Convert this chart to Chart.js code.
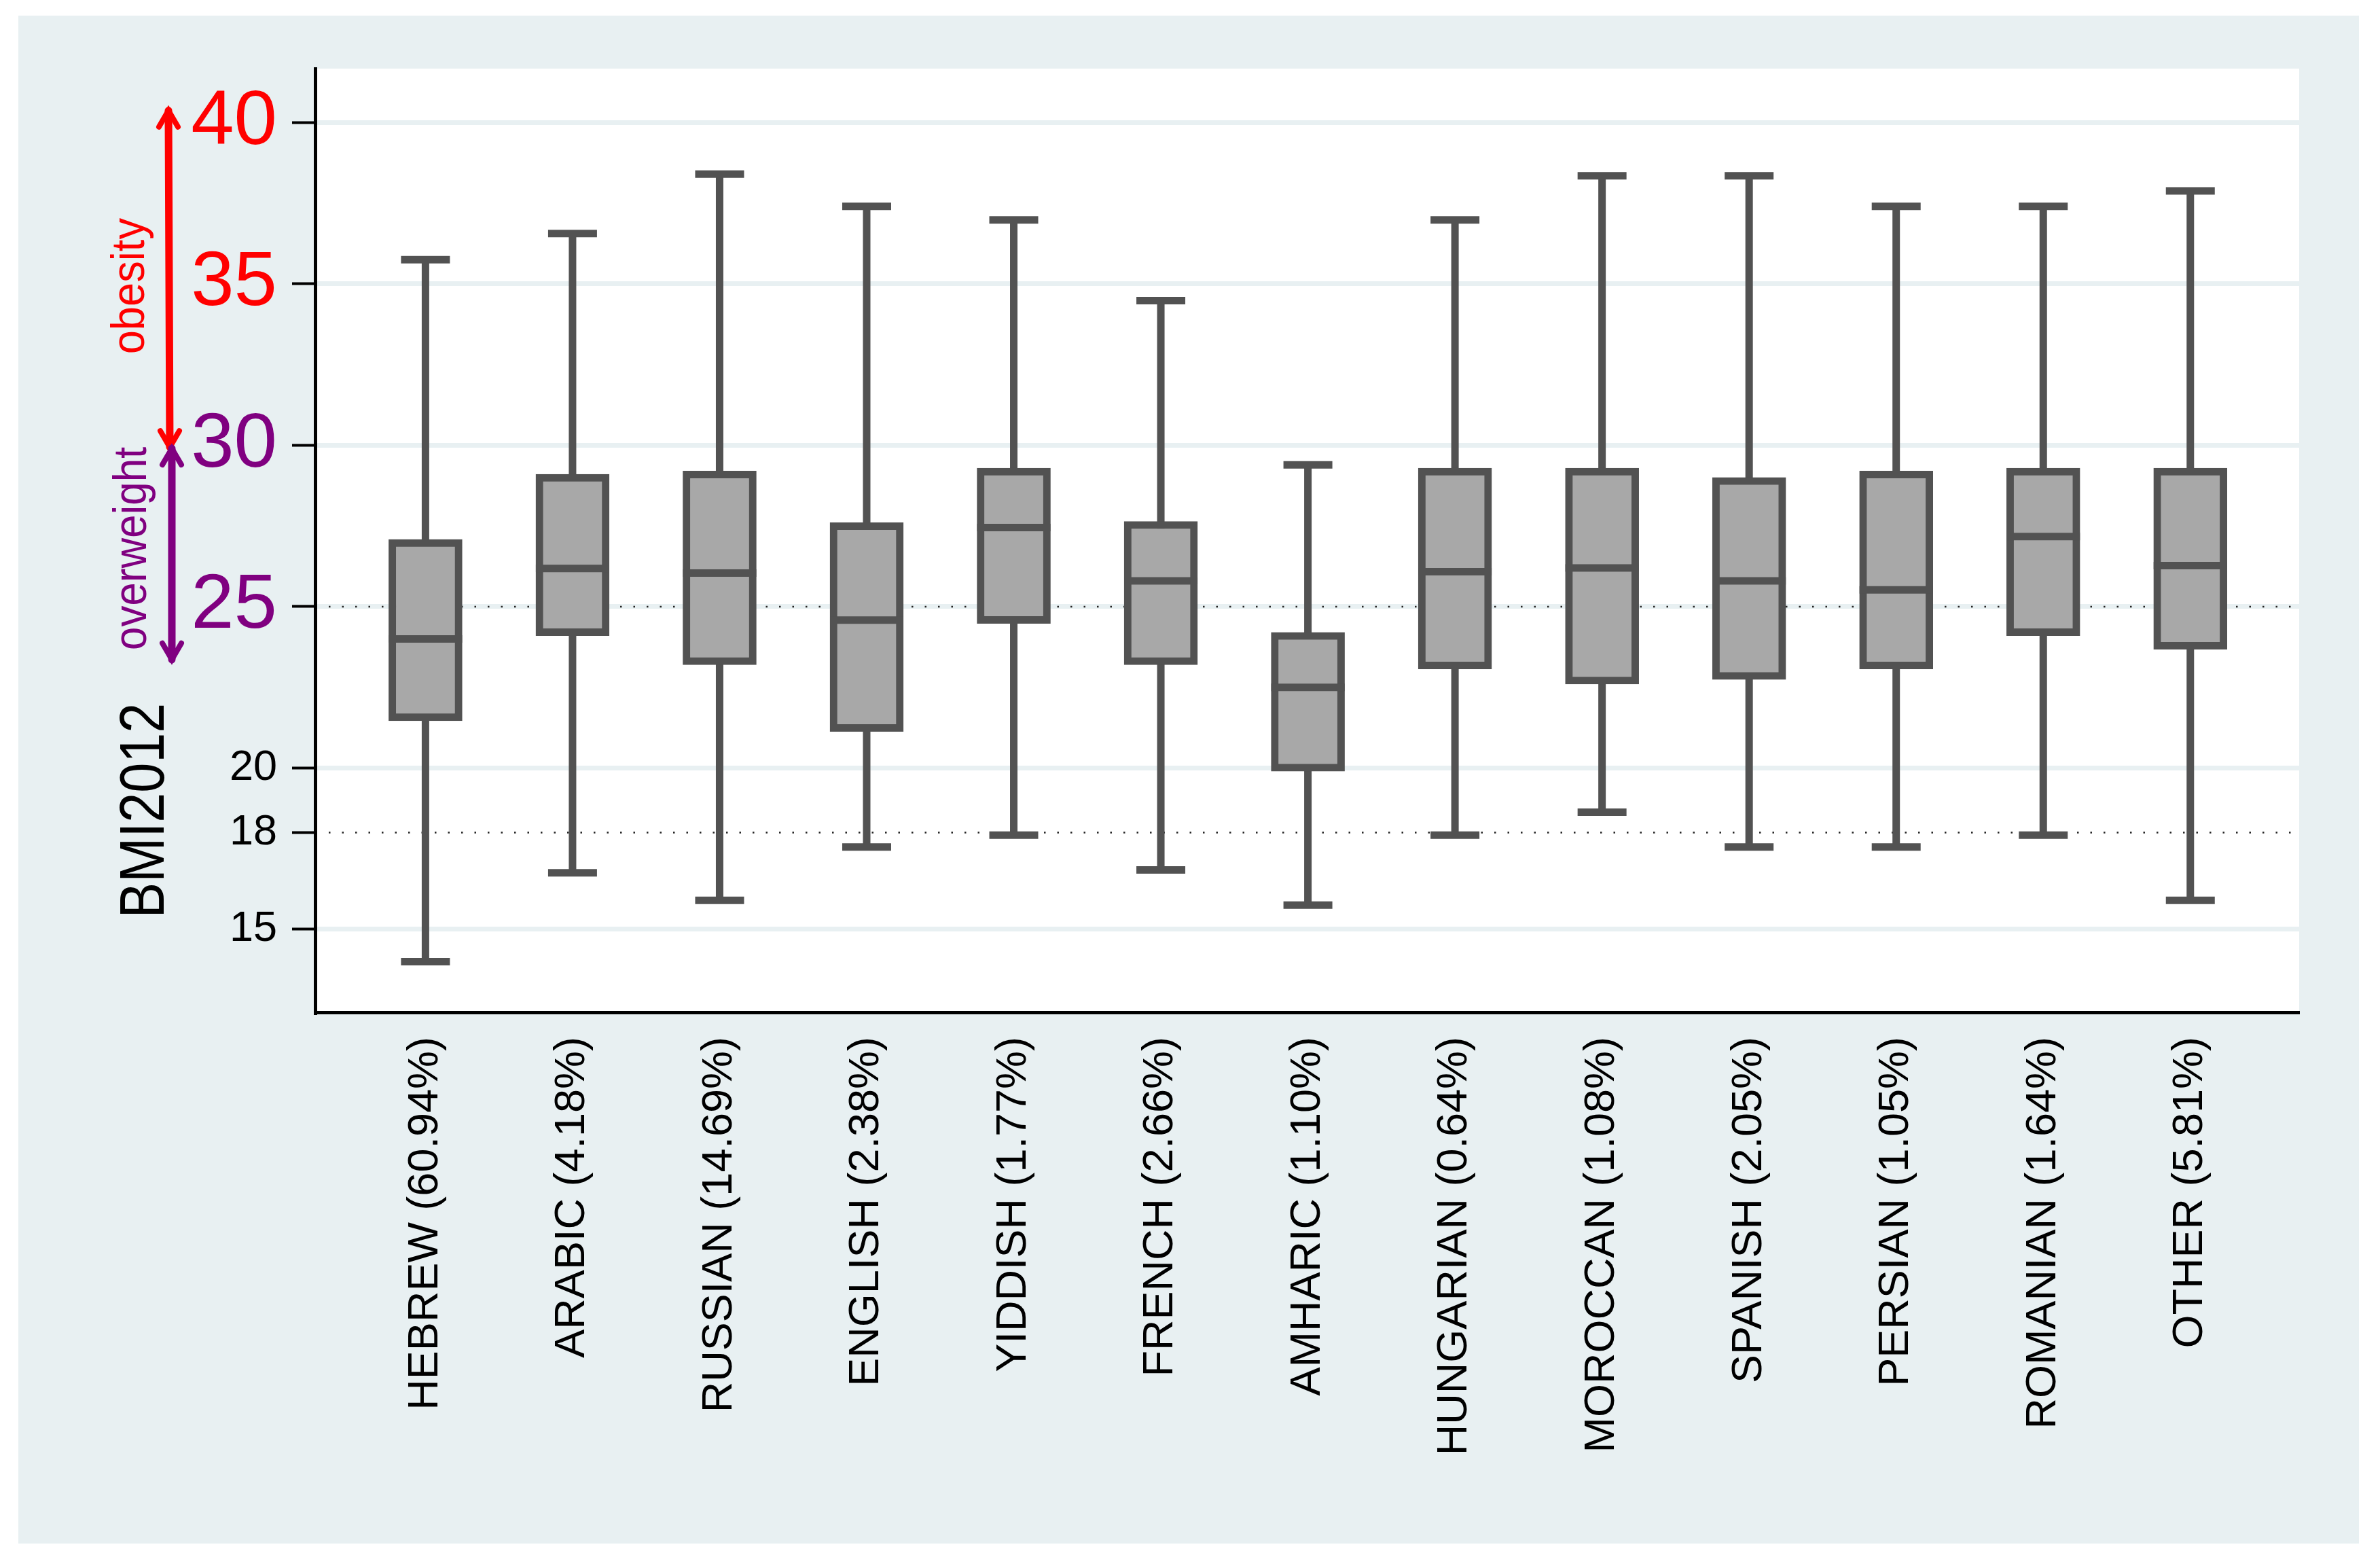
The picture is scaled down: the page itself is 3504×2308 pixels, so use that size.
<!DOCTYPE html>
<html>
<head>
<meta charset="utf-8">
<script src="https://cdn.jsdelivr.net/npm/chart.js@4.4.1/dist/chart.umd.min.js"></script>
<style>
  body { margin: 0; background: #fff; }
  canvas { display: block; }
</style>
</head>
<body>
<canvas id="bmiChart" width="3504" height="2308"></canvas>
<script>
// Categories (language spoken at home, share of sample)
const categories = ['HEBREW (60.94%)', 'ARABIC (4.18%)', 'RUSSIAN (14.69%)', 'ENGLISH (2.38%)',
	'YIDDISH (1.77%)', 'FRENCH (2.66%)', 'AMHARIC (1.10%)', 'HUNGARIAN (0.64%)', 'MOROCCAN (1.08%)',
	'SPANISH (2.05%)', 'PERSIAN (1.05%)', 'ROMANIAN (1.64%)', 'OTHER (5.81%)'];

// BMI box plot values
const whiskerLow  = [14.0, 16.75, 15.9, 17.55, 17.92, 16.84, 15.75, 17.92, 18.63, 17.55, 17.55, 17.92, 15.9];
const q1          = [21.46, 24.1, 23.2, 21.13, 24.48, 23.2, 19.9, 23.07, 22.6, 22.74, 23.07, 24.1, 23.68];
const median      = [24.0, 26.18, 26.04, 24.58, 27.45, 25.8, 22.5, 26.08, 26.2, 25.8, 25.52, 27.17, 26.27];
const q3          = [27.08, 29.1, 29.2, 27.6, 29.29, 27.64, 24.2, 29.29, 29.29, 29.0, 29.2, 29.29, 29.29];
const whiskerHigh = [35.75, 36.56, 38.4, 37.4, 36.98, 34.48, 29.39, 36.98, 38.35, 38.35, 37.4, 37.4, 37.88];

// y axis ticks and reference lines
const yTicks = [15, 18, 20, 25, 30, 35, 40];
const refLines = [18, 25];

// BMI zones shown by arrows on the left: [from, to]
const obesityRange = [40.37, 29.94];
const overweightRange = [29.9, 23.36];

const FONT = '"Liberation Sans", Arial, Helvetica, sans-serif';
const BOX_W = 108;
const CAP_W = 72;
const LINE_W = 11;
const DARK = '#525252';

function tickColor(v) {
	if (v >= 35) return '#ff0000';
	if (v >= 25) return '#800080';
	return '#000000';
}

function drawArrow(ctx, x1, y1, x2, y2, color) {
	ctx.save();
	ctx.strokeStyle = color;
	ctx.lineCap = 'round';
	ctx.lineWidth = 11;
	ctx.beginPath();
	ctx.moveTo(x1, y1);
	ctx.lineTo(x2, y2);
	ctx.stroke();
	ctx.lineWidth = 8;
	[[x1, y1, 1], [x2, y2, -1]].forEach(([x, y, dir]) => {
		ctx.beginPath();
		ctx.moveTo(x - 14, y + dir * 24);
		ctx.lineTo(x, y);
		ctx.lineTo(x + 14, y + dir * 24);
		ctx.stroke();
	});
	ctx.restore();
}

function drawRotatedText(ctx, text, x, y, size, color, squeeze) {
	ctx.save();
	ctx.translate(x, y);
	ctx.rotate(-Math.PI / 2);
	ctx.scale(squeeze, 1);
	ctx.font = size + 'px ' + FONT;
	ctx.fillStyle = color;
	ctx.textAlign = 'center';
	ctx.textBaseline = 'alphabetic';
	ctx.fillText(text, 0, 0);
	ctx.restore();
}

const boxParts = {
	id: 'boxParts',
	beforeDraw(chart) {
		const ctx = chart.ctx;
		const a = chart.chartArea;
		ctx.save();
		ctx.fillStyle = '#ffffff';
		ctx.fillRect(0, 0, chart.width, chart.height);
		ctx.fillStyle = '#e8f0f2';
		ctx.fillRect(27, 23, chart.width - 27 - 31, chart.height - 23 - 36);
		ctx.fillStyle = '#ffffff';
		ctx.fillRect(a.left, a.top, a.right - a.left, a.bottom - a.top);
		ctx.restore();
	},
	beforeDatasetsDraw(chart) {
		const ctx = chart.ctx;
		const xs = chart.scales.x, ys = chart.scales.y;
		const a = chart.chartArea;
		ctx.save();
		// dotted reference lines
		ctx.strokeStyle = '#222';
		ctx.lineWidth = 2.5;
		ctx.setLineDash([2.5, 17]);
		refLines.forEach(v => {
			const y = ys.getPixelForValue(v);
			ctx.beginPath();
			ctx.moveTo(a.left + 20, y);
			ctx.lineTo(a.right, y);
			ctx.stroke();
		});
		ctx.setLineDash([]);
		// whiskers and caps
		ctx.strokeStyle = DARK;
		ctx.lineWidth = LINE_W;
		categories.forEach((c, i) => {
			const x = xs.getPixelForValue(i);
			const yLo = ys.getPixelForValue(whiskerLow[i]);
			const yHi = ys.getPixelForValue(whiskerHigh[i]);
			ctx.beginPath();
			ctx.moveTo(x, yLo);
			ctx.lineTo(x, yHi);
			ctx.moveTo(x - CAP_W / 2, yLo);
			ctx.lineTo(x + CAP_W / 2, yLo);
			ctx.moveTo(x - CAP_W / 2, yHi);
			ctx.lineTo(x + CAP_W / 2, yHi);
			ctx.stroke();
		});
		ctx.restore();
	},
	afterDatasetsDraw(chart) {
		const ctx = chart.ctx;
		const xs = chart.scales.x, ys = chart.scales.y;
		ctx.save();
		ctx.strokeStyle = DARK;
		ctx.lineWidth = LINE_W;
		categories.forEach((c, i) => {
			const x = xs.getPixelForValue(i);
			const y = ys.getPixelForValue(median[i]);
			ctx.beginPath();
			ctx.moveTo(x - BOX_W / 2, y);
			ctx.lineTo(x + BOX_W / 2, y);
			ctx.stroke();
		});
		ctx.restore();
	},
	afterDraw(chart) {
		const ctx = chart.ctx;
		const ys = chart.scales.y;
		// axis title
		drawRotatedText(ctx, 'BMI2012', 241, ys.getPixelForValue(18.68), 92, '#000', 0.86);
		// zone arrows and labels
		drawArrow(ctx, 248, ys.getPixelForValue(obesityRange[0]), 250, ys.getPixelForValue(obesityRange[1]), '#ff0000');
		drawArrow(ctx, 253, ys.getPixelForValue(overweightRange[0]), 253, ys.getPixelForValue(overweightRange[1]), '#800080');
		drawRotatedText(ctx, 'obesity', 212, ys.getPixelForValue(34.93), 68, '#ff0000', 0.93);
		drawRotatedText(ctx, 'overweight', 215, ys.getPixelForValue(26.8), 68, '#800080', 0.91);
	}
};

const boxData = categories.map((c, i) => ({ x: i, y: [q1[i], q3[i]] }));

new Chart(document.getElementById('bmiChart'), {
	type: 'bar',
	data: {
		datasets: [{
			data: boxData,
			backgroundColor: '#a8a8a8',
			borderColor: DARK,
			borderWidth: LINE_W,
			borderSkipped: false,
			barThickness: BOX_W
		}]
	},
	options: {
		responsive: false,
		devicePixelRatio: 1,
		animation: false,
		layout: { padding: { left: 0, top: 101, right: 119, bottom: 0 } },
		plugins: {
			legend: { display: false },
			tooltip: { enabled: false }
		},
		scales: {
			x: {
				type: 'linear',
				offset: false,
				min: -0.75,
				max: 12.74,
				afterBuildTicks: scale => { scale.ticks = categories.map((c, i) => ({ value: i })); },
				afterFit: scale => { scale.height = 818; },
				grid: { display: true, offset: false, drawOnChartArea: false, drawTicks: false },
				border: { display: true, color: '#000', width: 5 },
				ticks: {
					autoSkip: false,
					minRotation: 90,
					maxRotation: 90,
					padding: 36,
					color: '#000',
					font: { family: FONT, size: 63 },
					callback: v => categories[v]
				}
			},
			y: {
				type: 'linear',
				min: 12.43,
				max: 41.67,
				afterBuildTicks: scale => { scale.ticks = yTicks.map(v => ({ value: v })); },
				afterFit: scale => { scale.width = 464; },
				grid: {
					color: ctx => (ctx.tick && ctx.tick.value === 18) ? 'rgba(0,0,0,0)' : '#e8f0f2',
					lineWidth: 7,
					drawTicks: true,
					tickLength: 34,
					tickWidth: 4,
					tickColor: '#000'
				},
				border: { display: true, color: '#000', width: 5 },
				ticks: {
					padding: 22,
					color: ctx => tickColor(ctx.tick.value),
					font: ctx => ({ family: FONT, size: ctx.tick && ctx.tick.value >= 25 ? 114 : 63 }),
					callback: v => String(v)
				}
			}
		}
	},
	plugins: [boxParts]
});
</script>
</body>
</html>
